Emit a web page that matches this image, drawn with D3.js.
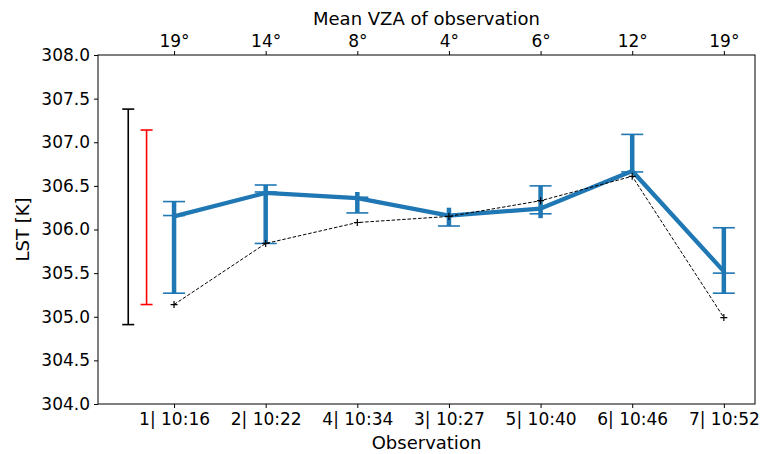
<!DOCTYPE html>
<html>
<head>
<meta charset="utf-8">
<script src="https://cdn.jsdelivr.net/npm/d3@7"></script>
<style>
  body { margin: 0; background: #fff; }
  svg text { font-family: "DejaVu Sans", sans-serif; fill: #000; }
</style>
</head>
<body>
<svg id="chart" width="767" height="454"></svg>
<script>
// observation labels (bottom axis) and mean VZA (top axis)
const obsLabels = ['1| 10:16', '2| 10:22', '4| 10:34', '3| 10:27', '5| 10:40', '6| 10:46', '7| 10:52']
const vzaLabels = ['19°', '14°', '8°', '4°', '6°', '12°', '19°']
const obsX = [1, 2, 3, 4, 5, 6, 7]

// mean LST (blue line) and its error bars
const lstMean = [306.15, 306.42, 306.36, 306.16, 306.24, 306.67, 305.52]
const errLow = [305.27, 305.84, 306.19, 306.04, 306.13, 306.64, 305.27]
const errHigh = [306.32, 306.51, 306.43, 306.25, 306.50, 307.09, 306.02]
const capLow = [305.27, 305.84, 306.19, 306.04, null, null, 305.27]
const capHigh = [306.32, 306.51, null, null, 306.50, 307.09, 306.02]
const capMid = [306.16, 306.43, 306.37, 306.17, 306.18, 306.66, 305.50]

// reference LST (dashed)
const lstRef = [305.14, 305.84, 306.08, 306.15, 306.33, 306.61, 304.99]

// spread bars on the left
const spreadX = [0.5, 0.7]
const spreadMid = [306.145, 306.14]
const spreadErr = [1.235, 1.0]
const spreadCol = ['black', 'red']

const yTicks = d3.range(304, 308.01, 0.5)

const margin = {left: 98, right: 12, top: 55, bottom: 50}
const W = 767, H = 454
const svg = d3.select('#chart')

const x = d3.scaleLinear().domain([0.17, 7.34]).range([margin.left, W - margin.right])
const y = d3.scaleLinear().domain([304, 308]).range([H - margin.bottom, margin.top])

const blue = '#1f77b4'
const fs = 17
const fsTitle = 18

// axes
const gy = svg.append('g').attr('transform', `translate(${margin.left},0)`)
  .call(d3.axisLeft(y).tickValues(yTicks).tickFormat(d3.format('.1f')).tickSizeOuter(0).tickSize(4).tickPadding(4))
const gb = svg.append('g').attr('transform', `translate(0,${H - margin.bottom})`)
  .call(d3.axisBottom(x).tickValues(obsX).tickFormat((d, i) => obsLabels[i]).tickSizeOuter(0).tickSize(4).tickPadding(5))
const gt = svg.append('g').attr('transform', `translate(0,${margin.top})`)
  .call(d3.axisTop(x).tickValues(obsX).tickFormat((d, i) => vzaLabels[i]).tickSizeOuter(0).tickSize(4).tickPadding(4))

;[gy, gb, gt].forEach(g => {
  g.select('.domain').remove()
  g.selectAll('text').style('font-size', fs + 'px').attr('font-family', null)
  g.selectAll('line').attr('stroke', '#000')
})

// frame
svg.append('rect')
  .attr('x', x.range()[0]).attr('y', y.range()[1])
  .attr('width', x.range()[1] - x.range()[0]).attr('height', y.range()[0] - y.range()[1])
  .attr('fill', 'none').attr('stroke', '#000').attr('stroke-width', 1)

// axis titles
svg.append('text').attr('x', (x.range()[0] + x.range()[1]) / 2).attr('y', 449)
  .attr('text-anchor', 'middle').style('font-size', fsTitle + 'px').text('Observation')
svg.append('text').attr('x', (x.range()[0] + x.range()[1]) / 2).attr('y', 25)
  .attr('text-anchor', 'middle').style('font-size', fsTitle + 'px').text('Mean VZA of observation')
svg.append('text').attr('transform', `translate(29,${(y.range()[0] + y.range()[1]) / 2}) rotate(-90)`)
  .attr('text-anchor', 'middle').style('font-size', fsTitle + 'px').text('LST [K]')

const plot = svg.append('g')

// left spread bars
spreadX.forEach((sx, i) => {
  const g = plot.append('g').attr('stroke', spreadCol[i]).attr('stroke-width', 1.6)
  const lo = spreadMid[i] - spreadErr[i], hi = spreadMid[i] + spreadErr[i]
  g.append('line').attr('x1', x(sx)).attr('x2', x(sx)).attr('y1', y(lo)).attr('y2', y(hi))
  ;[lo, hi].forEach(v => g.append('line')
    .attr('x1', x(sx) - 6).attr('x2', x(sx) + 6).attr('y1', y(v)).attr('y2', y(v)))
})

// blue error bars
obsX.forEach((ox, i) => {
  const g = plot.append('g').attr('stroke', blue)
  g.append('line').attr('stroke-width', 4.5)
    .attr('x1', x(ox)).attr('x2', x(ox)).attr('y1', y(errLow[i])).attr('y2', y(errHigh[i]))
  ;[capLow[i], capHigh[i], capMid[i]].filter(v => v !== null).forEach(v => g.append('line').attr('stroke-width', 1.6)
    .attr('x1', x(ox) - 11).attr('x2', x(ox) + 11).attr('y1', y(v)).attr('y2', y(v)))
})

// blue mean line
plot.append('path').datum(lstMean)
  .attr('fill', 'none').attr('stroke', blue).attr('stroke-width', 4.3).attr('stroke-linejoin', 'round')
  .attr('d', d3.line().x((d, i) => x(obsX[i])).y(d => y(d)))

// dashed reference line
plot.append('path').datum(lstRef)
  .attr('fill', 'none').attr('stroke', '#000').attr('stroke-width', 1).attr('stroke-dasharray', '3.5,1.8')
  .attr('d', d3.line().x((d, i) => x(obsX[i])).y(d => y(d)))

// + markers
plot.selectAll('.plus').data(lstRef).enter().append('path')
  .attr('class', 'plus')
  .attr('d', (d, i) => `M${x(obsX[i]) - 3.5},${y(d)}H${x(obsX[i]) + 3.5}M${x(obsX[i])},${y(d) - 3.5}V${y(d) + 3.5}`)
  .attr('stroke', '#000').attr('stroke-width', 1.2)
</script>
</body>
</html>
